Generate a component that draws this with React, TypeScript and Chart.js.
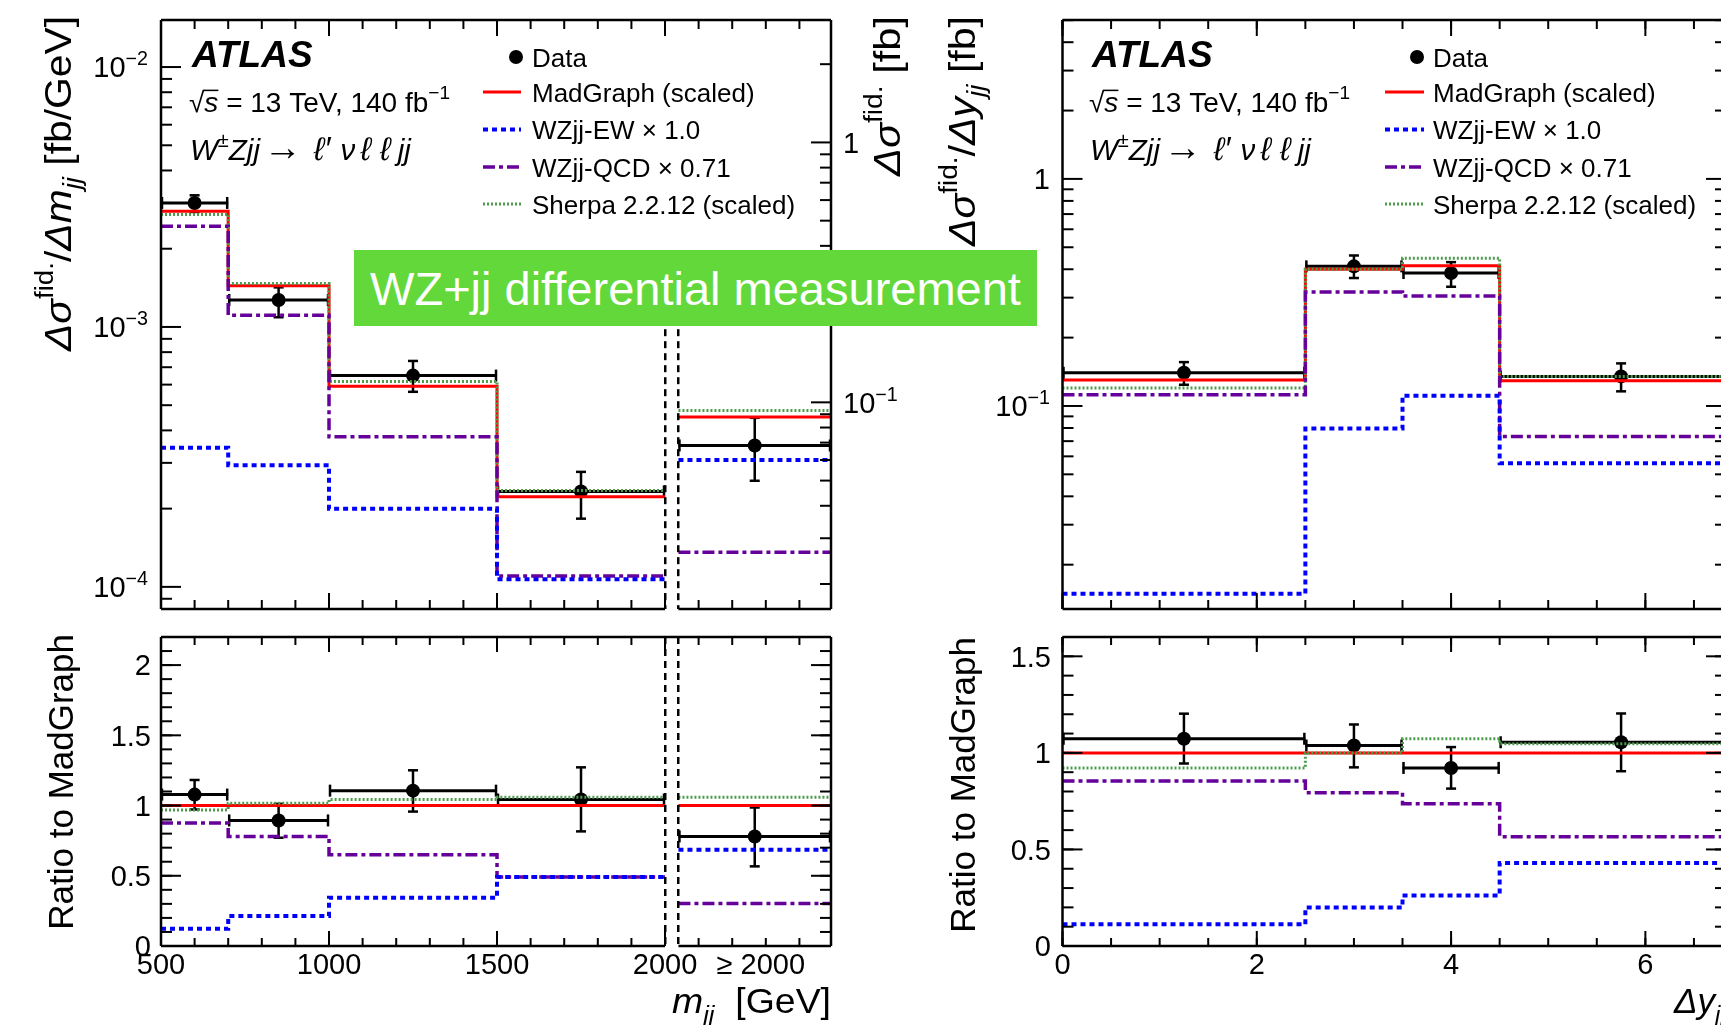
import React, { useEffect, useRef } from 'react';
import { Chart, registerables } from 'chart.js';

Chart.register(...registerables);

const PAGE_W = 1760;
const PAGE_H = 1025;
const VIEW_W = 1721;
const SANS = '"Liberation Sans", Arial, Helvetica, sans-serif';

// ---------------- m_jj distribution [fb/GeV] ----------------
// bins 500-700-1000-1500-2000 GeV, then the >= 2000 GeV bin shown in its own slot
const mjjEdges = [500, 700, 1000, 1500, 2000];
const mjjSlot = [2040, 2494];
const mjjAxis = [500, 2494];
const mjjCenters = [600, 850, 1250, 1750, 2267];
const mjjTickMajor = [500, 1000, 1500, 2000];
const mjjTickLabels = ['500', '1000', '1500', '2000', '≥ 2000'];
const mjjTickLabelAt = [500, 1000, 1500, 2000, 2285];

const mjjData = [3.0e-3, 1.27e-3, 6.5e-4, 2.33e-4, 3.5e-4];
const mjjDataHigh = [3.21e-3, 1.42e-3, 7.4e-4, 2.77e-4, 4.47e-4];
const mjjDataLow = [2.77e-3, 1.09e-3, 5.63e-4, 1.83e-4, 2.56e-4];
const mjjMadGraph = [2.79e-3, 1.44e-3, 5.92e-4, 2.22e-4, 4.5e-4];
const mjjSherpa = [2.71e-3, 1.47e-3, 6.17e-4, 2.35e-4, 4.77e-4];
const mjjEW = [3.43e-4, 2.94e-4, 2.0e-4, 1.07e-4, 3.08e-4];
const mjjQCD = [2.44e-3, 1.11e-3, 3.78e-4, 1.1e-4, 1.36e-4];
const mjjYRange = [8.22e-5, 1.517e-2];
const mjjFbPerGeV = 195; // right-hand axis: cross section of the last bin in fb

const mjjRatioData = [1.078, 0.894, 1.106, 1.043, 0.78];
const mjjRatioHigh = [1.182, 1.012, 1.251, 1.272, 0.986];
const mjjRatioLow = [0.972, 0.771, 0.957, 0.816, 0.567];
const mjjRatioMadGraph = [1, 1, 1, 1, 1];
const mjjRatioSherpa = [0.969, 1.017, 1.043, 1.059, 1.059];
const mjjRatioEW = [0.123, 0.213, 0.343, 0.492, 0.686];
const mjjRatioQCD = [0.875, 0.78, 0.65, 0.492, 0.303];
const mjjRatioRange = [0, 2.2];
const mjjRatioTicks = [0, 0.5, 1, 1.5, 2];

// ---------------- Δy_jj distribution [fb] ----------------
const dyEdges = [0, 2.5, 3.5, 4.5, 7.0];
const dyAxis = [0, 6.83];
const dyCenters = [1.25, 3.0, 4.0, 5.75];
const dyTickMajor = [0, 2, 4, 6];

const dyData = [0.14, 0.412, 0.385, 0.135];
const dyDataHigh = [0.156, 0.46, 0.43, 0.154];
const dyDataLow = [0.124, 0.366, 0.335, 0.116];
const dyMadGraph = [0.13, 0.4, 0.414, 0.129];
const dySherpa = [0.12, 0.4, 0.447, 0.135];
const dyEW = [0.0149, 0.0795, 0.111, 0.056];
const dyQCD = [0.112, 0.318, 0.305, 0.0733];
const dyYRange = [0.01276, 5.01];

const dyRatioData = [1.073, 1.038, 0.922, 1.055];
const dyRatioHigh = [1.203, 1.147, 1.03, 1.204];
const dyRatioLow = [0.945, 0.925, 0.815, 0.905];
const dyRatioMadGraph = [1, 1, 1, 1];
const dyRatioSherpa = [0.922, 1.0, 1.073, 1.047];
const dyRatioEW = [0.112, 0.199, 0.262, 0.43];
const dyRatioQCD = [0.855, 0.794, 0.737, 0.566];
const dyRatioRange = [0, 1.6];
const dyRatioTicks = [0, 0.5, 1, 1.5];

const legendLabels = ['Data', 'MadGraph (scaled)', 'WZjj-EW × 1.0', 'WZjj-QCD × 0.71', 'Sherpa 2.2.12 (scaled)'];

// ---------------- layout & style ----------------
type Frame = { l: number; t: number; r: number; b: number };
const FRAME_MJJ_TOP: Frame = { l: 161, t: 20, r: 831, b: 609 };
const FRAME_MJJ_RATIO: Frame = { l: 161, t: 637, r: 831, b: 946 };
const FRAME_DY_TOP: Frame = { l: 1062.5, t: 20, r: 1726, b: 609 };
const FRAME_DY_RATIO: Frame = { l: 1062.5, t: 637, r: 1726, b: 946 };
const LEGEND_ROWS = [57, 92, 129.5, 167, 204];

type LineStyle = { color: string; width: number; dash: number[] };
const STYLE: Record<string, LineStyle> = {
  ew: { color: '#0000ff', width: 4, dash: [5, 4] },
  qcd: { color: '#66009a', width: 3.5, dash: [12, 4, 4, 4] },
  sherpa: { color: '#4c9c4c', width: 3, dash: [2, 2] },
  mg: { color: '#ff0000', width: 3, dash: [] },
};

// ---------------- text helpers ----------------
type Seg = { t: string; it?: boolean; b?: boolean; s?: number; dy?: number; over?: boolean; gap?: number };

function segFont(sg: Seg, size: number) {
  return `${sg.it ? 'italic ' : ''}${sg.b ? 'bold ' : ''}${(size * (sg.s ?? 1)).toFixed(2)}px ${SANS}`;
}

function drawRich(
  ctx: CanvasRenderingContext2D,
  segs: Seg[],
  x: number,
  y: number,
  size: number,
  align: 'left' | 'right' | 'center' = 'left',
  opt: { rot?: boolean; fit?: number; color?: string } = {}
) {
  ctx.save();
  ctx.textBaseline = 'alphabetic';
  ctx.textAlign = 'left';
  const widths = segs.map((sg) => {
    ctx.font = segFont(sg, size);
    return ctx.measureText(sg.t).width + (sg.gap ?? 0) * size;
  });
  const w = widths.reduce((a, b) => a + b, 0);
  ctx.translate(x, y);
  if (opt.rot) ctx.rotate(-Math.PI / 2);
  if (opt.fit) ctx.scale(opt.fit / w, 1);
  let pos = align === 'left' ? 0 : align === 'right' ? -w : -w / 2;
  ctx.fillStyle = opt.color ?? '#000';
  segs.forEach((sg, i) => {
    ctx.font = segFont(sg, size);
    const yy = (sg.dy ?? 0) * size;
    ctx.fillText(sg.t, pos, yy);
    if (sg.over) ctx.fillRect(pos - size * 0.05, yy - size * 0.8, widths[i] + size * 0.05, size * 0.055);
    pos += widths[i];
  });
  ctx.restore();
}

function powLabel(v: number): Seg[] {
  const e = Math.round(Math.log10(v));
  if (e === 0) return [{ t: '1' }];
  return [{ t: '10' }, { t: (e < 0 ? '−' : '') + Math.abs(e), s: 0.68, dy: -0.42 }];
}

function seg(ctx: CanvasRenderingContext2D, x0: number, y0: number, x1: number, y1: number) {
  ctx.beginPath();
  ctx.moveTo(x0, y0);
  ctx.lineTo(x1, y1);
  ctx.stroke();
}

// vertical dashed separator, dash by dash
function dashedVertical(ctx: CanvasRenderingContext2D, x: number, y0: number, y1: number, on: number, off: number) {
  const xr = Math.round(x);
  for (let y = y0; y < y1; y += on + off) {
    ctx.fillRect(xr - 1, y, 2.5, Math.min(on, y1 - y));
  }
}

function linTicks(a: number, b: number, step: number) {
  const out: number[] = [];
  for (let k = Math.ceil(a / step - 1e-9); k * step <= b + 1e-9; k++) out.push(+(k * step).toFixed(6));
  return out;
}

function logTicks(a: number, b: number) {
  const major: number[] = [];
  const minor: number[] = [];
  for (let e = Math.floor(Math.log10(a)); e <= Math.ceil(Math.log10(b)); e++) {
    for (let m = 1; m <= 9; m++) {
      const v = m * Math.pow(10, e);
      if (v < a || v > b) continue;
      (m === 1 ? major : minor).push(v);
    }
  }
  return { major, minor };
}

// Step outline of a histogram; each block of edges is drawn as its own piece
function histPoints(blocks: number[][], vals: number[]) {
  const pts: { x: number; y: number | null }[] = [];
  let k = 0;
  blocks.forEach((edges, bi) => {
    if (bi > 0) pts.push({ x: (pts[pts.length - 1].x + edges[0]) / 2, y: null });
    const n = edges.length - 1;
    for (let i = 0; i < n; i++) pts.push({ x: edges[i], y: vals[k + i] });
    pts.push({ x: edges[n], y: vals[k + n - 1] });
    k += n;
  });
  return pts;
}

// ---------------- panel builder ----------------
interface Panel {
  frame: Frame;
  xRange: number[];
  yRange: number[];
  yLog: boolean;
  y2Range?: number[];
  histBlocks: number[][];
  hist: { ew: number[]; qcd: number[]; sherpa: number[]; mg: number[] };
  pts: { x: number[]; y: number[]; hi: number[]; lo: number[]; x0: number[]; x1: number[] };
  gap?: { from: number; to: number; yStart?: number };
  xMajor: number[];
  xMinor: number[];
  xLen: [number, number];
  yMajor: number[];
  yMinor: number[];
  y2Major?: number[];
  y2Minor?: number[];
  decorate: (ctx: CanvasRenderingContext2D, chart: any) => void;
}

function drawErrorBars(chart: any, p: Panel) {
  const ctx: CanvasRenderingContext2D = chart.ctx;
  const xs = chart.scales.x;
  const ys = chart.scales.y;
  ctx.save();
  ctx.strokeStyle = '#000';
  ctx.lineCap = 'butt';
  ctx.setLineDash([]);
  p.pts.x.forEach((xv, i) => {
    const px = xs.getPixelForValue(xv);
    const py = ys.getPixelForValue(p.pts.y[i]);
    const x0 = xs.getPixelForValue(p.pts.x0[i]);
    const x1 = xs.getPixelForValue(p.pts.x1[i]);
    const yh = ys.getPixelForValue(p.pts.hi[i]);
    const yl = ys.getPixelForValue(p.pts.lo[i]);
    ctx.lineWidth = 3;
    seg(ctx, x0, py, x1, py);
    ctx.lineWidth = 2.5;
    seg(ctx, x0 + 1, py - 6, x0 + 1, py + 6);
    seg(ctx, x1 - 1, py - 6, x1 - 1, py + 6);
    seg(ctx, px, yh, px, yl);
    seg(ctx, px - 5, yh, px + 5, yh);
    seg(ctx, px - 5, yl, px + 5, yl);
  });
  ctx.restore();
}

function drawGap(chart: any, p: Panel) {
  if (!p.gap) return;
  const ctx: CanvasRenderingContext2D = chart.ctx;
  const a = chart.chartArea;
  const g0 = chart.scales.x.getPixelForValue(p.gap.from);
  const g1 = chart.scales.x.getPixelForValue(p.gap.to);
  ctx.save();
  ctx.fillStyle = '#fff';
  ctx.fillRect(g0 + 2, a.top + 2, g1 - g0 - 4, a.bottom - a.top + 4);
  const yStart = p.gap.yStart != null ? chart.scales.y.getPixelForValue(p.gap.yStart) : a.top;
  ctx.fillStyle = '#000';
  dashedVertical(ctx, g0, yStart, a.bottom, 7, 5);
  dashedVertical(ctx, g1, yStart, a.bottom, 7, 5);
  ctx.restore();
}

function drawFrameAndTicks(chart: any, p: Panel) {
  const ctx: CanvasRenderingContext2D = chart.ctx;
  const a = chart.chartArea;
  const xs = chart.scales.x;
  const ys = chart.scales.y;
  const y2 = chart.scales.y2;
  ctx.save();
  ctx.strokeStyle = '#000';
  ctx.lineCap = 'butt';
  ctx.setLineDash([]);
  ctx.lineWidth = 2;
  const inGap = (v: number) => !!p.gap && v > p.gap.from && v < p.gap.to;
  const xt = (v: number, len: number) => {
    if (inGap(v)) return;
    const px = xs.getPixelForValue(v);
    seg(ctx, px, a.bottom, px, a.bottom - len);
    seg(ctx, px, a.top, px, a.top + len);
  };
  p.xMinor.forEach((v) => xt(v, p.xLen[1]));
  p.xMajor.forEach((v) => xt(v, p.xLen[0]));
  const yt = (v: number, len: number) => {
    const py = ys.getPixelForValue(v);
    seg(ctx, a.left, py, a.left + len, py);
    if (!y2) seg(ctx, a.right, py, a.right - len, py);
  };
  p.yMinor.forEach((v) => yt(v, 11));
  p.yMajor.forEach((v) => yt(v, 20));
  if (y2 && p.y2Major && p.y2Minor) {
    const yr = (v: number, len: number) => {
      const py = y2.getPixelForValue(v);
      seg(ctx, a.right, py, a.right - len, py);
    };
    p.y2Minor.forEach((v) => yr(v, 11));
    p.y2Major.forEach((v) => yr(v, 20));
  }
  ctx.lineWidth = 2.5;
  seg(ctx, a.left, a.top, a.right, a.top);
  seg(ctx, a.left, a.top, a.left, a.bottom);
  seg(ctx, a.right, a.top, a.right, a.bottom);
  if (p.gap) {
    seg(ctx, a.left, a.bottom, xs.getPixelForValue(p.gap.from), a.bottom);
    seg(ctx, xs.getPixelForValue(p.gap.to), a.bottom, a.right, a.bottom);
  } else {
    seg(ctx, a.left, a.bottom, a.right, a.bottom);
  }
  ctx.restore();
}

function makePanel(canvas: HTMLCanvasElement, p: Panel) {
  const f = p.frame;
  const step = (vals: number[], st: LineStyle) => ({
    type: 'line',
    data: histPoints(p.histBlocks, vals),
    borderColor: st.color,
    borderWidth: st.width,
    borderDash: st.dash,
    borderCapStyle: 'butt',
    stepped: 'before',
    spanGaps: false,
    pointRadius: 0,
    fill: false,
    tension: 0,
  });
  const datasets: any[] = [
    step(p.hist.ew, STYLE.ew),
    step(p.hist.qcd, STYLE.qcd),
    step(p.hist.sherpa, STYLE.sherpa),
    step(p.hist.mg, STYLE.mg),
    {
      type: 'scatter',
      data: p.pts.x.map((x, i) => ({ x, y: p.pts.y[i] })),
      pointRadius: 7,
      pointBackgroundColor: '#000',
      pointBorderColor: '#000',
      pointBorderWidth: 0,
      showLine: false,
    },
  ];
  const DATA_INDEX = 4;
  const scales: any = {
    x: { type: 'linear', min: p.xRange[0], max: p.xRange[1], display: false },
    y: { type: p.yLog ? 'logarithmic' : 'linear', min: p.yRange[0], max: p.yRange[1], display: false },
  };
  if (p.y2Range) {
    scales.y2 = { type: 'logarithmic', position: 'right', min: p.y2Range[0], max: p.y2Range[1], display: false };
  }
  const plugin = {
    id: 'rootStyle',
    beforeDatasetDraw(chart: any, args: any) {
      if (args.index === DATA_INDEX) drawErrorBars(chart, p);
    },
    afterDatasetsDraw(chart: any) {
      drawGap(chart, p);
      drawFrameAndTicks(chart, p);
      p.decorate(chart.ctx, chart);
    },
  };
  return new Chart(canvas, {
    type: 'line',
    data: { datasets },
    options: {
      responsive: false,
      animation: false,
      devicePixelRatio: 1,
      events: [],
      layout: { padding: { left: f.l, top: f.t, right: PAGE_W - f.r, bottom: PAGE_H - f.b } },
      plugins: { legend: { display: false }, tooltip: { enabled: false } },
      scales,
    },
    plugins: [plugin],
  } as any);
}

// ---------------- annotations ----------------
function drawAtlasBlock(ctx: CanvasRenderingContext2D, x: number) {
  drawRich(ctx, [{ t: 'ATLAS', it: true, b: true }], x, 67, 37);
  drawRich(
    ctx,
    [{ t: '√' }, { t: 's', it: true, over: true }, { t: ' = 13 TeV, 140 fb' }, { t: '−1', s: 0.68, dy: -0.45 }],
    x - 3,
    112,
    28
  );
  drawRich(
    ctx,
    [
      { t: 'W', it: true },
      { t: '±', s: 0.68, dy: -0.45 },
      { t: 'Zjj', it: true, gap: 0.12 },
      { t: '→', s: 1.3, gap: 0.4 },
      { t: 'ℓ′', it: true, s: 1.1, gap: 0.35 },
      { t: 'ν', it: true, gap: 0.18 },
      { t: 'ℓ', it: true, s: 1.1, gap: 0.3 },
      { t: 'ℓ', it: true, s: 1.1, gap: 0.25 },
      { t: 'jj', it: true },
    ],
    x - 2,
    160,
    29.5
  );
}

function drawLegend(ctx: CanvasRenderingContext2D, lx0: number, lx1: number, dotX: number, textX: number) {
  const styles = [null, STYLE.mg, STYLE.ew, STYLE.qcd, STYLE.sherpa];
  legendLabels.forEach((label, i) => {
    const y = LEGEND_ROWS[i];
    const st = styles[i];
    ctx.save();
    if (!st) {
      ctx.fillStyle = '#000';
      ctx.beginPath();
      ctx.arc(dotX, y, 7, 0, Math.PI * 2);
      ctx.fill();
    } else {
      ctx.strokeStyle = st.color;
      ctx.lineWidth = st.width;
      ctx.setLineDash(st.dash);
      ctx.lineCap = 'butt';
      seg(ctx, lx0, y, lx1, y);
    }
    ctx.restore();
    drawRich(ctx, [{ t: label }], textX, y + 9.5, 26);
  });
}

const TITLE_MJJ: Seg[] = [
  { t: 'Δσ', it: true },
  { t: 'fid.', s: 0.68, dy: -0.5 },
  { t: '/' },
  { t: 'Δm', it: true },
  { t: 'jj', it: true, s: 0.68, dy: 0.28 },
  { t: ' [fb/GeV]' },
];
const TITLE_FB: Seg[] = [{ t: 'Δσ', it: true }, { t: 'fid.', s: 0.68, dy: -0.5 }, { t: ' [fb]' }];
const TITLE_DY: Seg[] = [
  { t: 'Δσ', it: true },
  { t: 'fid.', s: 0.68, dy: -0.5 },
  { t: '/' },
  { t: 'Δy', it: true },
  { t: 'jj', it: true, s: 0.68, dy: 0.28 },
  { t: ' [fb]' },
];
const TITLE_RATIO: Seg[] = [{ t: 'Ratio to MadGraph' }];
const XTITLE_MJJ: Seg[] = [{ t: 'm', it: true }, { t: 'jj', it: true, s: 0.68, dy: 0.28 }, { t: '  [GeV]' }];
const XTITLE_DY: Seg[] = [{ t: 'Δy', it: true }, { t: 'jj', it: true, s: 0.68, dy: 0.28 }];

// ---------------- panel specs ----------------
const mjjYTicks = logTicks(mjjYRange[0], mjjYRange[1]);
const mjjFbRange = [mjjYRange[0] * mjjFbPerGeV, mjjYRange[1] * mjjFbPerGeV];
const mjjFbTicks = logTicks(mjjFbRange[0], mjjFbRange[1]);
const dyYTicks = logTicks(dyYRange[0], dyYRange[1]);
const mjjBlocks = [mjjEdges, mjjSlot];
const mjjBinLo = mjjCenters.map((_, i) => (i < mjjEdges.length - 1 ? mjjEdges[i] : mjjSlot[0]));
const mjjBinHi = mjjCenters.map((_, i) => (i < mjjEdges.length - 1 ? mjjEdges[i + 1] : mjjSlot[1]));
const dyBinLo = dyCenters.map((_, i) => dyEdges[i]);
const dyBinHi = dyCenters.map((_, i) => Math.min(dyEdges[i + 1], dyAxis[1]));

const mjjTop: Panel = {
  frame: FRAME_MJJ_TOP,
  xRange: mjjAxis,
  yRange: mjjYRange,
  yLog: true,
  y2Range: mjjFbRange,
  histBlocks: mjjBlocks,
  hist: { ew: mjjEW, qcd: mjjQCD, sherpa: mjjSherpa, mg: mjjMadGraph },
  pts: { x: mjjCenters, y: mjjData, hi: mjjDataHigh, lo: mjjDataLow, x0: mjjBinLo, x1: mjjBinHi },
  gap: { from: mjjEdges[mjjEdges.length - 1], to: mjjSlot[0], yStart: 1.5e-3 },
  xMajor: mjjTickMajor,
  xMinor: linTicks(mjjAxis[0], mjjAxis[1], 100),
  xLen: [16, 9],
  yMajor: mjjYTicks.major,
  yMinor: mjjYTicks.minor,
  y2Major: mjjFbTicks.major,
  y2Minor: mjjFbTicks.minor,
  decorate(ctx, chart) {
    const ys = chart.scales.y;
    const y2 = chart.scales.y2;
    mjjYTicks.major.forEach((v) => drawRich(ctx, powLabel(v), 148, ys.getPixelForValue(v) + 10.4, 29, 'right'));
    mjjFbTicks.major.forEach((v) => drawRich(ctx, powLabel(v), 843, y2.getPixelForValue(v) + 10.4, 29, 'left'));
    drawRich(ctx, TITLE_MJJ, 71, 16, 37, 'right', { rot: true, fit: 335 });
    drawRich(ctx, TITLE_FB, 900, 16, 37, 'right', { rot: true, fit: 160 });
    drawAtlasBlock(ctx, 192);
    drawLegend(ctx, 483, 521, 516, 532);
  },
};

const mjjRatio: Panel = {
  frame: FRAME_MJJ_RATIO,
  xRange: mjjAxis,
  yRange: mjjRatioRange,
  yLog: false,
  histBlocks: mjjBlocks,
  hist: { ew: mjjRatioEW, qcd: mjjRatioQCD, sherpa: mjjRatioSherpa, mg: mjjRatioMadGraph },
  pts: { x: mjjCenters, y: mjjRatioData, hi: mjjRatioHigh, lo: mjjRatioLow, x0: mjjBinLo, x1: mjjBinHi },
  gap: { from: mjjEdges[mjjEdges.length - 1], to: mjjSlot[0] },
  xMajor: mjjTickMajor,
  xMinor: linTicks(mjjAxis[0], mjjAxis[1], 100),
  xLen: [15, 8],
  yMajor: mjjRatioTicks,
  yMinor: linTicks(mjjRatioRange[0], mjjRatioRange[1], 0.1),
  decorate(ctx, chart) {
    const xs = chart.scales.x;
    const ys = chart.scales.y;
    mjjRatioTicks.forEach((v) => drawRich(ctx, [{ t: String(v) }], 151, ys.getPixelForValue(v) + 10.4, 29, 'right'));
    mjjTickLabels.forEach((lab, i) =>
      drawRich(ctx, [{ t: lab }], xs.getPixelForValue(mjjTickLabelAt[i]), 974, 29, 'center')
    );
    drawRich(ctx, TITLE_RATIO, 73, 634, 35, 'right', { rot: true });
    drawRich(ctx, XTITLE_MJJ, 831, 1013, 35, 'right', { fit: 159 });
  },
};

const dyTop: Panel = {
  frame: FRAME_DY_TOP,
  xRange: dyAxis,
  yRange: dyYRange,
  yLog: true,
  histBlocks: [dyEdges],
  hist: { ew: dyEW, qcd: dyQCD, sherpa: dySherpa, mg: dyMadGraph },
  pts: { x: dyCenters, y: dyData, hi: dyDataHigh, lo: dyDataLow, x0: dyBinLo, x1: dyBinHi },
  xMajor: dyTickMajor,
  xMinor: linTicks(dyAxis[0], dyAxis[1], 0.5),
  xLen: [16, 9],
  yMajor: dyYTicks.major,
  yMinor: dyYTicks.minor,
  decorate(ctx, chart) {
    const ys = chart.scales.y;
    dyYTicks.major.forEach((v) => drawRich(ctx, powLabel(v), 1050, ys.getPixelForValue(v) + 10.4, 29, 'right'));
    drawRich(ctx, TITLE_DY, 975, 16, 37, 'right', { rot: true, fit: 230 });
    drawAtlasBlock(ctx, 1092);
    drawLegend(ctx, 1385, 1424, 1417, 1433);
  },
};

const dyRatio: Panel = {
  frame: FRAME_DY_RATIO,
  xRange: dyAxis,
  yRange: dyRatioRange,
  yLog: false,
  histBlocks: [dyEdges],
  hist: { ew: dyRatioEW, qcd: dyRatioQCD, sherpa: dyRatioSherpa, mg: dyRatioMadGraph },
  pts: { x: dyCenters, y: dyRatioData, hi: dyRatioHigh, lo: dyRatioLow, x0: dyBinLo, x1: dyBinHi },
  xMajor: dyTickMajor,
  xMinor: linTicks(dyAxis[0], dyAxis[1], 0.5),
  xLen: [15, 8],
  yMajor: dyRatioTicks,
  yMinor: linTicks(dyRatioRange[0], dyRatioRange[1], 0.1),
  decorate(ctx, chart) {
    const xs = chart.scales.x;
    const ys = chart.scales.y;
    dyRatioTicks.forEach((v) => drawRich(ctx, [{ t: String(v) }], 1051, ys.getPixelForValue(v) + 10.4, 29, 'right'));
    dyTickMajor.forEach((v) => drawRich(ctx, [{ t: String(v) }], xs.getPixelForValue(v), 974, 29, 'center'));
    drawRich(ctx, TITLE_RATIO, 975, 637, 35, 'right', { rot: true });
    drawRich(ctx, XTITLE_DY, 1674, 1013, 35, 'left');
  },
};

// ---------------- components ----------------
function PanelCanvas({ panel }: { panel: Panel }) {
  const ref = useRef<HTMLCanvasElement>(null);
  useEffect(() => {
    if (!ref.current) return;
    const chart = makePanel(ref.current, panel);
    return () => chart.destroy();
  }, [panel]);
  return (
    <canvas
      ref={ref}
      width={PAGE_W}
      height={PAGE_H}
      style={{ position: 'absolute', left: 0, top: 0, width: PAGE_W, height: PAGE_H }}
    />
  );
}

export default function App() {
  return (
    <div
      style={{
        position: 'fixed',
        left: 0,
        top: 0,
        width: VIEW_W,
        height: PAGE_H,
        overflow: 'hidden',
        background: '#ffffff',
      }}
    >
      <PanelCanvas panel={mjjTop} />
      <PanelCanvas panel={mjjRatio} />
      <PanelCanvas panel={dyTop} />
      <PanelCanvas panel={dyRatio} />
      <div
        style={{
          position: 'absolute',
          left: 354,
          top: 250,
          width: 683,
          height: 76,
          background: '#63d83a',
          color: '#ffffff',
          font: `47px ${SANS}`,
          display: 'flex',
          alignItems: 'center',
          justifyContent: 'center',
          whiteSpace: 'nowrap',
        }}
      >
        WZ+jj differential measurement
      </div>
    </div>
  );
}
